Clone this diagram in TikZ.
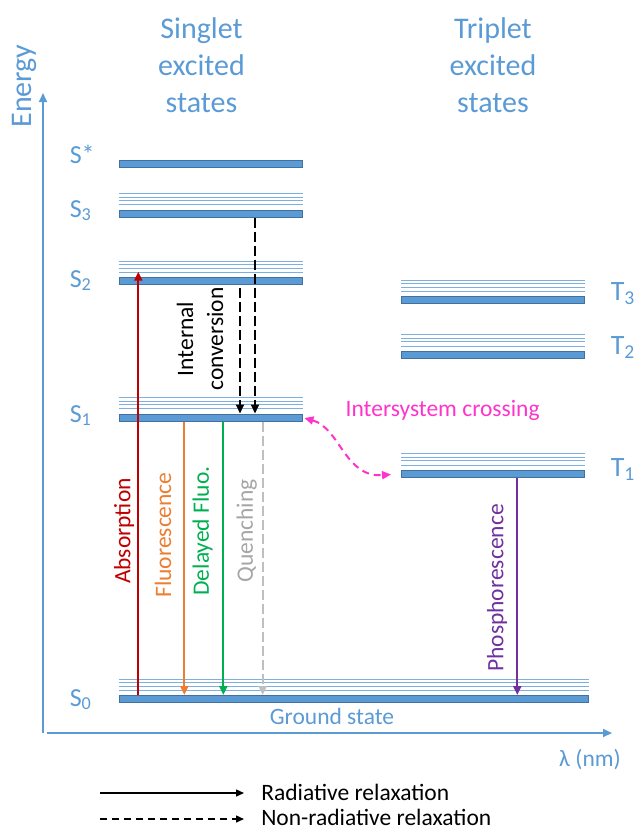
\documentclass[tikz,border=0pt]{standalone}
\usepackage{fontspec}
\setmainfont{Carlito}
\usetikzlibrary{arrows.meta,positioning}
\definecolor{accblue}{HTML}{5B9BD5}
\definecolor{bardark}{HTML}{41719C}
\definecolor{vibblue}{HTML}{7EB0DF}
\definecolor{absred}{HTML}{C00000}
\definecolor{fluorange}{HTML}{ED7D31}
\definecolor{delgreen}{HTML}{00B050}
\definecolor{quegray}{HTML}{BFBFBF}
\definecolor{quetext}{HTML}{A6A6A6}
\definecolor{phospurple}{HTML}{7030A0}
\definecolor{iscpink}{HTML}{FF33CC}

\begin{document}
\begin{tikzpicture}[x=1pt, y=-1pt, ->, >={Triangle[length=9pt,width=8pt]}, semithick,
level/.style={rectangle, draw=bardark, fill=accblue, line width=1pt, minimum height=7pt, inner sep=0pt},
vib/.style={-, vibblue, line width=0.9pt},
big/.style={text=accblue, font=\fontsize{30}{36.7}\selectfont, align=center},
small/.style={font=\fontsize{23.5}{30}\selectfont},
slab/.style={text=accblue, font=\fontsize{26}{30}\selectfont, anchor=base west, inner sep=0pt},
tlab/.style={text=accblue, font=\fontsize{28}{30}\selectfont, anchor=base west, inner sep=0pt},
vert/.style={small, rotate=90},
axis/.style={accblue, line width=1.8pt},
trans/.style={line width=2.2pt},
nonrad/.style={line width=2pt, dash pattern=on 10pt off 4pt},
isc/.style={iscpink, line width=2pt, dash pattern=on 7pt off 5pt},
legend/.style={black, line width=1.4pt, >={Triangle[length=8pt,width=7pt]}}]
\useasboundingbox (0,0) rectangle (636,831);

\node[level, minimum width=183pt] (Sx) at (210.5,164) {};
\node[level, minimum width=183pt] (S3) at (210.5,213.5) {};
\node[level, minimum width=183pt] (S2) at (210.5,281.3) {};
\node[level, minimum width=183pt] (S1) at (210.5,417.5) {};
\node[level, minimum width=469pt] (S0) at (353.5,699) {};
\node[level, minimum width=183pt] (T3) at (493,300) {};
\node[level, minimum width=183pt] (T2) at (493,354.7) {};
\node[level, minimum width=183pt] (T1) at (493,473.7) {};

\foreach \lv in {S3,S2,S1,S0,T3,T2,T1}
  \foreach \d in {20,16.5,13,8.7}
    \draw[vib] ([yshift=\d pt]\lv.west) -- ([yshift=\d pt]\lv.east);

\node[slab] (LSx) at ([xshift=-49pt, yshift=1pt]Sx.west) {S*};
\node[slab] (LS3) at ([xshift=-49pt, yshift=-3.5pt]S3.west) {S\textsubscript{3}};
\node[slab] (LS2) at ([xshift=-49pt, yshift=-5.7pt]S2.west) {S\textsubscript{2}};
\node[slab] (LS1) at ([xshift=-49pt, yshift=-4.5pt]S1.west) {S\textsubscript{1}};
\node[slab] (LS0) at ([xshift=-49pt, yshift=-7pt]S0.west) {S\textsubscript{0}};
\node[tlab] (LT3) at ([xshift=25.5pt]T3.east) {T\textsubscript{3}};
\node[tlab] (LT2) at ([xshift=25.5pt]T2.east) {T\textsubscript{2}};
\node[tlab] (LT1) at ([xshift=25.5pt, yshift=-3pt]T1.east) {T\textsubscript{1}};

\node[big] (SG) at (201.5,65) {Singlet\\excited\\states};
\node[big] (TG) at (493,65) {Triplet\\excited\\states};
\node[big, rotate=90] (E) at (24,86) {Energy};

\coordinate (O) at (43,733);
\coordinate (Etop) at (43,93);
\coordinate (Lend) at (612,733);
\draw[axis] (O) -- (Etop);
\draw[axis] ([xshift=4pt]O) -- (Lend);
\node[small, text=accblue] (L) at (590,760) {λ (nm)};
\node[small, text=accblue, anchor=base] (G) at (332,724) {Ground state};

\coordinate (ab) at (138.3,271.7);
\coordinate (fl) at (184.3,0);
\coordinate (df) at (223.3,0);
\coordinate (qu) at (262.7,0);
\coordinate (ph) at (517.3,0);
\draw[trans, absred] (S0.north -| ab) -- (ab);
\draw[trans, fluorange] (S1.south -| fl) -- (S0.north -| fl);
\draw[trans, delgreen] (S1.south -| df) -- (S0.north -| df);
\draw[nonrad, quegray] (S1.south -| qu) -- (S0.north -| qu);
\draw[trans, phospurple] (T1.south -| ph) -- (S0.north -| ph);
\node[vert, text=absred] (AB) at (124,531) {Absorption};
\node[vert, text=fluorange] (FL) at (163,535) {Fluorescence};
\node[vert, text=delgreen] (DF) at (202.5,531) {Delayed Fluo.};
\node[vert, text=quetext] (QU) at (246.7,531) {Quenching};
\node[vert, text=phospurple] (PH) at (497,588) {Phosphorescence};

\coordinate (ic1) at (240,288);
\coordinate (ic2) at (255,0);
\draw[nonrad] (ic1) -- (S1.north -| ic1);
\draw[nonrad] (S3.south -| ic2) -- (S1.north -| ic2);
\node[vert, align=center] (IC) at (200,339) {Internal\\conversion};

\draw[isc, <->, shorten <=2pt, shorten >=10pt] (S1.east) .. controls (340,428) and (345,478) .. (T1.west);
\node[small, text=iscpink, anchor=base west] (ISC) at (342,416) {Intersystem crossing};

\node[small, anchor=base west, inner sep=1pt] (RR) at (260,800) {Radiative relaxation};
\node[small, below=25pt of RR.base west, anchor=base west, inner sep=1pt] (NR) {Non-radiative relaxation};
\coordinate (r0) at (100,793);
\coordinate (n0) at (100,819);
\draw[legend, shorten >=16pt] (r0) -- (r0 -| RR.west);
\draw[legend, dash pattern=on 7pt off 5pt, shorten >=16pt] (n0) -- (n0 -| NR.west);
\end{tikzpicture}
\end{document}
